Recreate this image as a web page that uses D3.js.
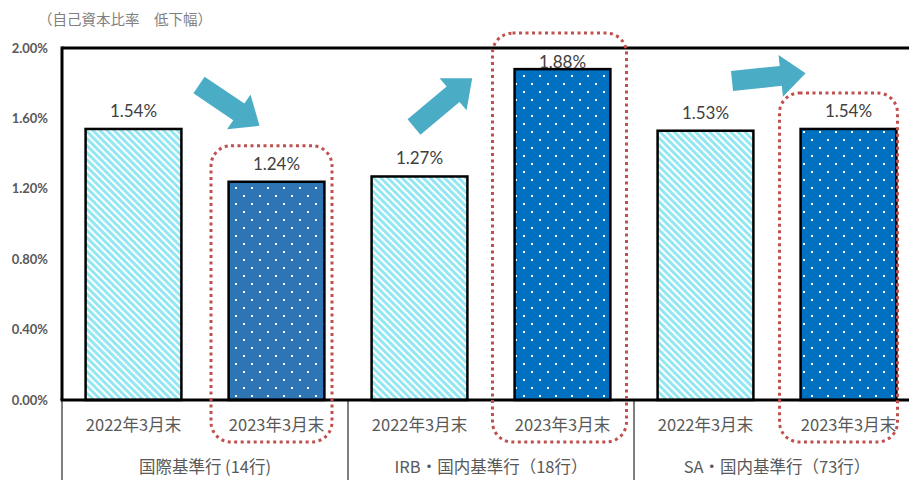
<!DOCTYPE html>
<html><head><meta charset="utf-8">
<script src="https://cdn.jsdelivr.net/npm/d3@7/dist/d3.min.js"></script>
<style>body{margin:0;background:#fff;}svg{display:block;}</style>
</head><body>
<script>
const groups = ["国際基準行 (14行)", "IRB・国内基準行（18行）", "SA・国内基準行（73行）"];
const periods = ["2022年3月末", "2023年3月末"];
const values2022 = [1.54, 1.27, 1.53];
const values2023 = [1.24, 1.88, 1.54];
const yTicks = [0, 0.4, 0.8, 1.2, 1.6, 2.0];
const title = "（自己資本比率　低下幅）";

(function () {
const W = 909, H = 480;
const svg = d3.select("body").append("svg").attr("width", W).attr("height", H);
const defs = svg.append("defs");

// hatch pattern
const hp = defs.append("pattern").attr("id", "hatch").attr("patternUnits", "userSpaceOnUse")
  .attr("width", 5).attr("height", 5).attr("patternTransform", "rotate(45)");
hp.append("rect").attr("width", 5).attr("height", 5).attr("fill", "#fff");
hp.append("rect").attr("width", 5).attr("height", 3).attr("fill", "#93e7f3");

function dotPattern(id, color) {
  const p = defs.append("pattern").attr("id", id).attr("patternUnits", "userSpaceOnUse")
    .attr("width", 16).attr("height", 16);
  p.append("rect").attr("width", 16).attr("height", 16).attr("fill", color);
  p.append("rect").attr("x", 3).attr("y", 3).attr("width", 2).attr("height", 2).attr("fill", "#fff");
  p.append("rect").attr("x", 11).attr("y", 11).attr("width", 2).attr("height", 2).attr("fill", "#fff");
}
dotPattern("dots1", "#2e75b6");
dotPattern("dots2", "#0070c0");

const pLeft = 62, pTop = 48, pBottom = 400, pRight = 920;
const y = d3.scaleLinear().domain([0, 2]).range([pBottom, pTop]);
const xg = d3.scaleBand().domain(groups).range([pLeft, pRight]);
const xp = d3.scaleBand().domain(periods).range([0, xg.bandwidth()]).paddingInner(0.33).paddingOuter(0.165);
const cx = d => xg(d.g) + xp(d.p) + xp.bandwidth() / 2;

// title
svg.append("text").attr("x", 38).attr("y", 25).attr("fill", "#7f7f7f")
  .attr("font-family", "'Noto Sans CJK JP'").attr("font-size", 14.5).text(title);

// y axis labels
const yAxis = d3.axisLeft(y).tickValues(yTicks).tickFormat(d => d.toFixed(2) + "%").tickSize(0).tickPadding(0);
const ya = svg.append("g").attr("transform", `translate(48,0)`).call(yAxis);
ya.select(".domain").remove();
ya.selectAll("text").attr("font-family", "Lato, 'Liberation Sans'").attr("font-weight", "bold")
  .attr("font-size", 13).attr("fill", "#595959");

// bars
const data = [];
groups.forEach((g, i) => {
  data.push({ g, p: periods[0], v: values2022[i], fill: "url(#hatch)" });
  data.push({ g, p: periods[1], v: values2023[i], fill: i === 0 ? "url(#dots1)" : "url(#dots2)" });
});
const bars = svg.append("g");
bars.selectAll("rect").data(data).join("rect")
  .attr("x", d => xg(d.g) + xp(d.p))
  .attr("y", d => y(d.v))
  .attr("width", xp.bandwidth())
  .attr("height", d => y(0) - y(d.v))
  .attr("fill", d => d.fill)
  .attr("stroke", "#000").attr("stroke-width", 2.5);

bars.selectAll("text").data(data).join("text")
  .attr("x", cx)
  .attr("y", d => Math.max(y(d.v) - 12, pTop + 20))
  .attr("text-anchor", "middle")
  .attr("font-family", "Lato, 'Liberation Sans'").attr("font-size", 17).attr("fill", "#404040")
  .text(d => d.v.toFixed(2) + "%");

// frame
svg.append("line").attr("x1", pLeft).attr("x2", W).attr("y1", pTop).attr("y2", pTop).attr("stroke", "#000").attr("stroke-width", 3);
svg.append("line").attr("x1", pLeft).attr("x2", pLeft).attr("y1", pTop - 1.5).attr("y2", pBottom).attr("stroke", "#000").attr("stroke-width", 3);
svg.append("line").attr("x1", pLeft - 1.5).attr("x2", W).attr("y1", pBottom).attr("y2", pBottom).attr("stroke", "#000").attr("stroke-width", 3);

// category separators
const seps = groups.map(g => xg(g)).concat([pRight]);
svg.append("g").selectAll("line").data(seps).join("line")
  .attr("x1", d => d).attr("x2", d => d).attr("y1", pBottom).attr("y2", H)
  .attr("stroke", "#000").attr("stroke-width", 1);

// x labels
svg.append("g").selectAll("text").data(data).join("text")
  .attr("x", cx)
  .attr("y", 431).attr("text-anchor", "middle")
  .attr("font-family", "'Noto Sans CJK JP'").attr("font-size", 16.5).attr("fill", "#595959")
  .text(d => d.p);
svg.append("g").selectAll("text").data(groups).join("text")
  .attr("x", d => xg(d) + xg.bandwidth() / 2)
  .attr("y", 473).attr("text-anchor", "middle")
  .attr("font-family", "'Noto Sans CJK JP'").attr("font-size", 16.5).attr("fill", "#595959")
  .text(d => d);

// red dotted highlight boxes around 2023 bars
const hl = data.filter(d => d.p === periods[1]);
const boxAdj = [{ dx: -5, w: 121 }, { dx: -3, w: 134 }, { dx: -10, w: 118 }];
svg.append("g").selectAll("rect").data(hl).join("rect")
  .attr("x", (d, i) => cx(d) + boxAdj[i].dx - boxAdj[i].w / 2)
  .attr("y", d => y(d.v) - 36)
  .attr("width", (d, i) => boxAdj[i].w)
  .attr("height", d => 442 - (y(d.v) - 36))
  .attr("rx", 20).attr("ry", 20)
  .attr("fill", "none").attr("stroke", "#c0504d").attr("stroke-width", 3)
  .attr("stroke-dasharray", "3,3.5");

// arrows
const arrows = [
  { x: 199, y: 85, angle: 34, len: 73 },
  { x: 414, y: 127, angle: -40, len: 76 },
  { x: 732, y: 81, angle: -6, len: 74 }
];
function arrowPath(L) {
  const sw = 10, hw = 21, hl2 = 25;
  return `M0,${-sw} L${L - hl2},${-sw} L${L - hl2},${-hw} L${L},0 L${L - hl2},${hw} L${L - hl2},${sw} L0,${sw} Z`;
}
svg.append("g").selectAll("path").data(arrows).join("path")
  .attr("d", d => arrowPath(d.len))
  .attr("transform", d => `translate(${d.x},${d.y}) rotate(${d.angle})`)
  .attr("fill", "#4bacc6");
})();
</script>
</body></html>
